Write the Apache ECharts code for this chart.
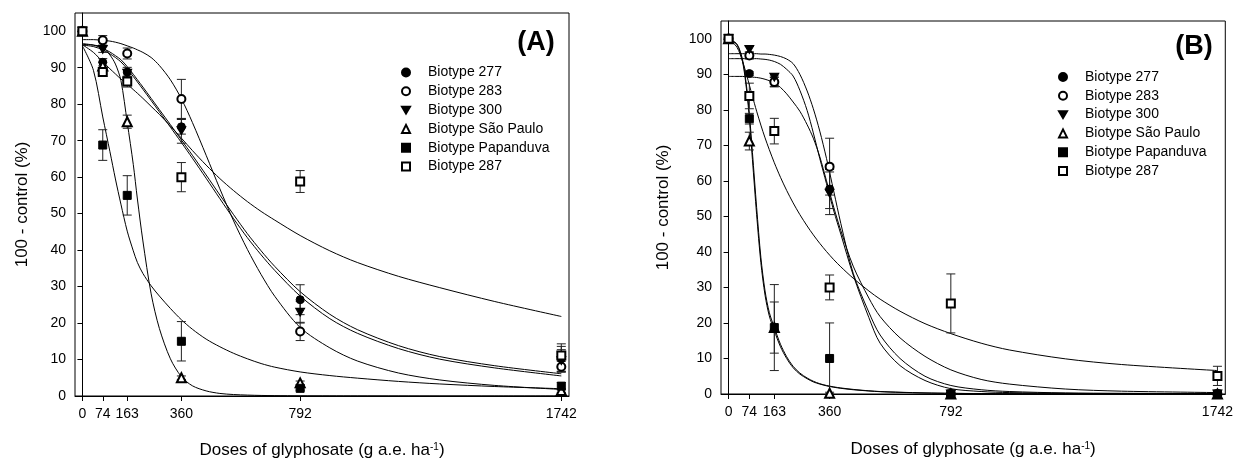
<!DOCTYPE html>
<html>
<head>
<meta charset="utf-8">
<script src="https://cdn.jsdelivr.net/npm/echarts/dist/echarts.min.js"></script>
<style>html,body{margin:0;padding:0;background:#fff}#c{width:1236px;height:464px}</style>
</head>
<body>
<div id="c"></div>
<script>
// ---------- data ----------
const doses = [0, 74, 163, 360, 792, 1742];
const yTicks = [0, 10, 20, 30, 40, 50, 60, 70, 80, 90, 100];
const biotypes = ['Biotype 277', 'Biotype 283', 'Biotype 300', 'Biotype São Paulo', 'Biotype Papanduva', 'Biotype 287'];

// Panel A observed means and errors
const meanA277 = [100, 91.5, 88.8, 73.8, 26.4, 10.2];
const meanA283 = [100, 97.5, 93.9, 81.4, 17.7, 8.0];
const meanA300 = [100, 95.0, 88.5, 72.7, 23.0, 9.7];
const meanASP  = [100, 90.5, 75.2, 5.0, 3.6, 1.5];
const meanAPap = [100, 68.8, 55.0, 15.0, 2.1, 2.7];
const meanA287 = [100, 88.8, 86.2, 60.0, 58.8, 11.1];
const errA277 = [0, 1.0, 1.3, 2.0, 4.1, 3.4];
const errA283 = [0, 1.3, 1.5, 5.4, 2.5, 1.5];
const errA300 = [0, 0.8, 1.0, 3.4, 3.0, 3.0];
const errASP  = [0, 1.0, 1.8, 0.5, 0.5, 0.5];
const errAPap = [0, 4.2, 5.4, 5.4, 0.5, 1.0];
const errA287 = [0, 1.2, 1.5, 4.0, 3.0, 3.2];

// Panel B observed means and errors
const meanB277 = [100, 90.2, 88.0, 57.7, 0, 0];
const meanB283 = [100, 95.3, 87.8, 64.0, 0, 0];
const meanB300 = [100, 97.0, 89.2, 56.5, 0, 0];
const meanBSP  = [100, 71.2, 18.7, 0.2, 0, 0];
const meanBPap = [100, 77.5, 18.7, 10.0, 0, 0];
const meanB287 = [100, 83.9, 74.0, 30.0, 25.5, 5.1];
const errB277 = [0, 0.5, 1.5, 5.5, 0, 0];
const errB283 = [0, 1.0, 1.3, 8.0, 0, 0];
const errB300 = [0, 0.8, 1.0, 6.0, 0, 0];
const errBSP  = [0, 2.5, 7.2, 0.3, 0, 0];
const errBPap = [0, 1.5, 12.1, 10.0, 0, 0];
const errB287 = [0, 3.6, 3.6, 3.5, 8.3, 2.7];

// Fitted curves
const curveDosesA = [0, 40, 74, 100, 120, 140, 163, 185, 200, 220, 250, 280, 320, 360, 400, 450, 500, 550, 600, 650, 700, 792, 900, 1000, 1150, 1300, 1500, 1742];
const curveA277 = [96.6, 96.2, 95.3, 94.3, 93.3, 92.2, 90.3, 88.2, 86.7, 84.7, 81.6, 78.5, 74.4, 70.2, 66.0, 60.6, 55.1, 49.7, 44.5, 39.8, 35.5, 28.6, 22.4, 18.2, 13.8, 10.8, 8.3, 6.1];
const curveA283 = [97.7, 97.7, 97.5, 97.3, 97.0, 96.6, 96.0, 95.4, 94.9, 94.2, 92.8, 90.6, 86.7, 81.5, 75.0, 66.0, 56.8, 48.0, 40.2, 33.3, 27.3, 18.8, 13.2, 9.6, 6.3, 4.4, 2.9, 1.8];
const curveA300 = [96.2, 95.8, 94.9, 93.8, 92.8, 91.6, 89.7, 87.6, 86.1, 84.1, 81.0, 77.9, 73.7, 69.5, 65.2, 59.7, 54.1, 48.6, 43.4, 38.7, 34.4, 27.4, 21.2, 17.2, 13.0, 10.1, 7.7, 5.5];
const curveASP  = [96.4, 96.2, 95.6, 93.5, 91.0, 86.5, 75.0, 63.5, 54.0, 42.5, 28.0, 18.5, 10.2, 5.3, 2.8, 1.4, 0.7, 0.4, 0.25, 0.15, 0.1, 0.05, 0.03, 0.02, 0.01, 0, 0, 0];
const curveAPap = [96.0, 89.3, 76.5, 67.0, 59.5, 52.6, 45.2, 39.8, 36.6, 33.6, 30.2, 27.4, 24.0, 20.9, 18.3, 15.6, 13.5, 11.7, 10.2, 8.9, 7.9, 6.6, 5.6, 4.9, 4.0, 3.3, 2.6, 2.0];
const curveA287 = [96.3, 94.2, 91.6, 89.7, 88.3, 86.9, 85.5, 84.0, 83.0, 81.6, 79.4, 77.2, 74.0, 70.7, 67.3, 63.3, 59.6, 56.3, 53.3, 50.6, 48.2, 44.0, 39.8, 36.6, 32.8, 29.7, 25.9, 21.8];

const curveDosesB = [0, 30, 50, 65, 74, 85, 100, 115, 130, 145, 163, 185, 207, 230, 254, 280, 302, 325, 349, 375, 400, 444, 500, 540, 611, 700, 792, 900, 1000, 1200, 1400, 1742];
const curveB277 = [89.4, 89.4, 89.4, 89.3, 89.3, 89.2, 89.1, 88.9, 88.6, 88.2, 87.6, 86.3, 84.5, 82.2, 79.6, 75.8, 72.0, 66.8, 60.0, 52.5, 46.0, 36.0, 27.0, 21.8, 15.8, 10.6, 6.8, 4.1, 2.8, 1.4, 0.8, 0.4];
const curveB283 = [95.8, 95.8, 95.8, 95.8, 95.8, 95.8, 95.8, 95.7, 95.7, 95.6, 95.4, 95.0, 94.3, 93.0, 90.0, 85.3, 80.3, 74.0, 66.3, 57.0, 48.0, 34.0, 23.0, 16.6, 10.0, 5.0, 2.4, 1.2, 0.7, 0.3, 0.2, 0.1];
const curveB300 = [94.4, 94.4, 94.4, 94.4, 94.4, 94.4, 94.4, 94.3, 94.2, 94.0, 93.6, 92.8, 91.4, 89.5, 85.5, 79.8, 73.5, 66.3, 59.2, 51.5, 45.0, 33.5, 21.5, 14.3, 8.0, 3.8, 1.5, 0.7, 0.4, 0.2, 0.1, 0.1];
const curveBSP  = [100, 98.3, 93.5, 85, 77.5, 66, 50.5, 37, 27.8, 22, 17.8, 13.3, 10, 7.4, 5.6, 4.3, 3.4, 2.8, 2.3, 1.9, 1.6, 1.2, 0.85, 0.65, 0.45, 0.28, 0.18, 0.1, 0.07, 0.04, 0.03, 0.02];
const curveBPap = [100, 98.5, 94, 86, 79, 68, 52.5, 38.5, 29, 23, 18.7, 14, 10.5, 7.8, 5.9, 4.5, 3.6, 2.9, 2.4, 2.0, 1.7, 1.3, 0.9, 0.7, 0.5, 0.3, 0.2, 0.12, 0.08, 0.05, 0.03, 0.02];
const curveB287 = [100, 97.6, 93.6, 89.6, 87.0, 83.8, 79.6, 75.7, 72.1, 68.8, 65.1, 61.0, 57.3, 53.8, 50.5, 47.3, 44.8, 42.4, 40.1, 37.8, 35.8, 32.6, 29.0, 26.7, 23.3, 19.8, 17.0, 14.3, 12.4, 9.9, 8.3, 6.6];

// ---------- chart ----------
const FONT = "'Liberation Sans', Arial, sans-serif";
const DOWN_TRI = 'path://M0,0L10,0L5,8.66Z';
const symbols = [
  {symbol: 'circle', size: 8},
  {symbol: 'emptyCircle', size: 8},
  {symbol: DOWN_TRI, size: [9, 8]},
  {symbol: 'emptyTriangle', size: 9},
  {symbol: 'rect', size: 8},
  {symbol: 'emptyRect', size: 8}
];
const panels = [
  {means: [meanA277, meanA283, meanA300, meanASP, meanAPap, meanA287],
   errs: [errA277, errA283, errA300, errASP, errAPap, errA287],
   cx: curveDosesA, curves: [curveA277, curveA283, curveA300, curveASP, curveAPap, curveA287]},
  {means: [meanB277, meanB283, meanB300, meanBSP, meanBPap, meanB287],
   errs: [errB277, errB283, errB300, errBSP, errBPap, errB287],
   cx: curveDosesB, curves: [curveB277, curveB283, curveB300, curveBSP, curveBPap, curveB287]}
];

const series = [];
panels.forEach((p, pi) => {
  p.curves.forEach((vals, ci) => {
    series.push({
      type: 'line', name: 'fit' + pi + ci, xAxisIndex: pi, yAxisIndex: pi,
      data: p.cx.map((d, i) => [d, vals[i]]),
      showSymbol: false, smooth: 0.3, silent: true, z: 2,
      lineStyle: {color: '#000', width: 1}
    });
  });
  const ebData = [];
  p.means.forEach((m, bi) => {
    doses.forEach((d, i) => { if (p.errs[bi][i] > 0) ebData.push([d, m[i], p.errs[bi][i]]); });
  });
  series.push({
    type: 'custom', name: 'err' + pi, xAxisIndex: pi, yAxisIndex: pi, z: 3, silent: true,
    data: ebData,
    renderItem: function (params, api) {
      const x = api.value(0), y = api.value(1), e = api.value(2);
      const top = api.coord([x, y + e]);
      const bot = api.coord([x, y - e]);
      const w = 4.5;
      const st = {stroke: '#222', lineWidth: 1};
      return {type: 'group', children: [
        {type: 'line', shape: {x1: top[0], y1: top[1], x2: bot[0], y2: bot[1]}, style: st},
        {type: 'line', shape: {x1: top[0] - w, y1: top[1], x2: top[0] + w, y2: top[1]}, style: st},
        {type: 'line', shape: {x1: bot[0] - w, y1: bot[1], x2: bot[0] + w, y2: bot[1]}, style: st}
      ]};
    }
  });
  p.means.forEach((m, bi) => {
    series.push({
      type: 'scatter', name: biotypes[bi], xAxisIndex: pi, yAxisIndex: pi, z: 5,
      symbol: symbols[bi].symbol, symbolSize: symbols[bi].size,
      itemStyle: {color: '#000', borderColor: '#000', borderWidth: 1, opacity: 1},
      data: doses.map((d, i) => [d, m[i]])
    });
  });
});

function xAxis(gi, gap) {
  return {
    type: 'value', gridIndex: gi, min: -27, max: 1770,
    splitLine: {show: false},
    axisLine: {lineStyle: {color: '#000', width: 1}},
    axisTick: {customValues: doses, length: 5, lineStyle: {color: '#000'}},
    axisLabel: {customValues: doses, color: '#000', fontSize: 14, fontFamily: FONT, margin: 11,
      formatter: v => String(v)},
    name: 'Doses of glyphosate (g a.e. ha{sup|-1})',
    nameLocation: 'middle', nameGap: gap,
    nameTextStyle: {color: '#000', fontSize: 17, fontFamily: FONT,
      rich: {sup: {fontSize: 10, fontFamily: FONT, color: '#000', verticalAlign: 'top'}}}
  };
}
function yAxis(gi, gap) {
  return {
    type: 'value', gridIndex: gi, min: 0, max: 105,
    splitLine: {show: false},
    axisLine: {lineStyle: {color: '#000', width: 1}},
    axisTick: {customValues: yTicks, length: 5, lineStyle: {color: '#000'}},
    axisLabel: {customValues: yTicks, color: '#000', fontSize: 14, fontFamily: FONT, margin: 9},
    name: '100 - control (%)', nameLocation: 'middle', nameGap: gap,
    nameTextStyle: {color: '#000', fontSize: 17, fontFamily: FONT}
  };
}
function legend(left, top) {
  return {
    orient: 'vertical', left: left, top: top, data: biotypes,
    itemWidth: 8, itemHeight: 8, itemGap: 4.8, selectedMode: false,
    textStyle: {color: '#000', fontSize: 14, fontFamily: FONT, lineHeight: 14, padding: [0, 0, 0, 13]}
  };
}

const chart = echarts.init(document.getElementById('c'), null, {renderer: 'canvas'});
chart.setOption({
  animation: false,
  backgroundColor: '#fff',
  grid: [
    {left: 75, right: 667, top: 13, bottom: 66, show: true, borderColor: '#000', borderWidth: 1, containLabel: false},
    {left: 721, right: 9, top: 21, bottom: 70, show: true, borderColor: '#000', borderWidth: 1, containLabel: false}
  ],
  xAxis: [xAxis(0, 46), xAxis(1, 47)],
  yAxis: [yAxis(0, 44), yAxis(1, 49)],
  legend: [legend(396, 60.5), legend(1053, 65)],
  graphic: [
    {type: 'text', x: 536, y: 43, style: {text: '(A)', font: 'bold 27px ' + FONT, fill: '#000', align: 'center', verticalAlign: 'middle'}},
    {type: 'text', x: 1194, y: 47, style: {text: '(B)', font: 'bold 27px ' + FONT, fill: '#000', align: 'center', verticalAlign: 'middle'}}
  ],
  series: series
});
</script>
</body>
</html>
